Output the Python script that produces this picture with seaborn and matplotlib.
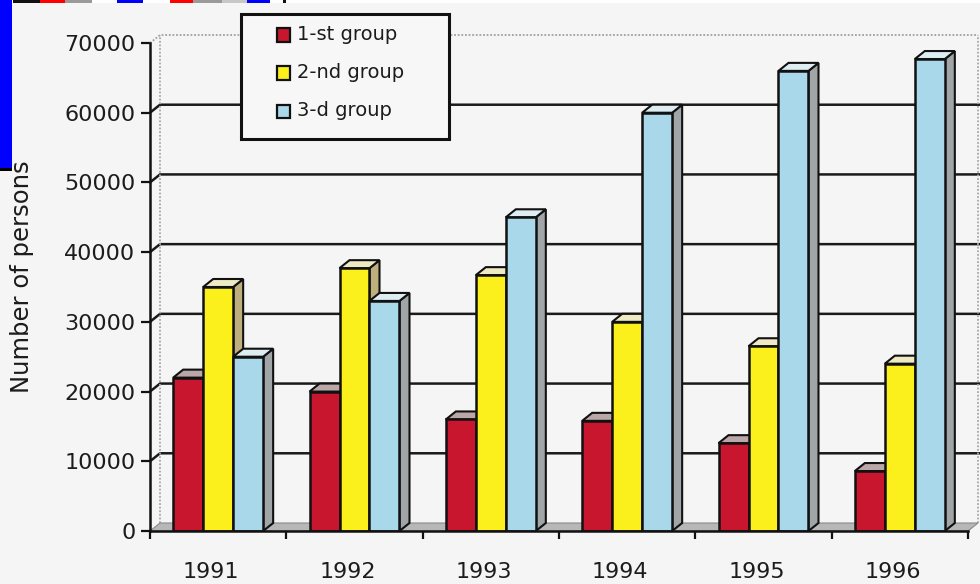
import numpy as np
import pandas as pd
import matplotlib
matplotlib.use("Agg")
import matplotlib.pyplot as plt
import seaborn as sns
from matplotlib.patches import Polygon, Rectangle
import matplotlib.transforms as mtrans

# ---- data -------------------------------------------------------------
years = ["1991", "1992", "1993", "1994", "1995", "1996"]
groups = ["1-st group", "2-nd group", "3-d group"]
group1 = [22000, 20000, 16000, 15800, 12600, 8600]
group2 = [35000, 37700, 36700, 30000, 26500, 24000]
group3 = [25000, 33000, 45000, 60000, 66000, 67700]
y_ticks = [0, 10000, 20000, 30000, 40000, 50000, 60000, 70000]
y_title = "Number of persons"

# ---- style ------------------------------------------------------------
front_colors = ["#c8162f", "#fbf01c", "#a8d8ea"]
side_colors = ["#7d2a33", "#bdb07c", "#a0a6a7"]
top_colors = ["#bba6a8", "#eeeac4", "#ddedf2"]
BG = "#f5f5f5"
INK = "#111111"
TXT = "#1c1c1c"

sns.set_theme(style="white")
plt.rcParams["font.family"] = ["DejaVu Sans"]

W, H = 980, 584
fig = plt.figure(figsize=(W / 100, H / 100), dpi=100, facecolor=BG)
ax = fig.add_axes([150 / W, 53 / H, 818 / W, 488 / H])
ax.set_facecolor("none")

df = pd.DataFrame({
    "year": years * 3,
    "group": [g for g in groups for _ in years],
    "persons": group1 + group2 + group3,
})

sns.barplot(data=df, x="year", y="persons", hue="group", order=years,
            hue_order=groups, palette=front_colors, width=0.66,
            saturation=1, edgecolor=INK, linewidth=1.8, legend=False, ax=ax)

ax.set_xlim(-0.5, 5.5)
ax.set_ylim(0, 70000)

# depth of the pseudo-3D extrusion, given in pixels and converted to data
origin = ax.transData.transform((0, 0))
dx, dy = ax.transData.inverted().transform(origin + np.array([10, 8]))
right_end = ax.transData.inverted().transform(
    ax.transData.transform((5.5, 0)) + np.array([14, 0]))[0]

# floor
ax.add_patch(Polygon([(-0.5, 0), (5.5, 0), (5.5 + dx, dy), (-0.5 + dx, dy)],
                     closed=True, facecolor="#b7b7b7", edgecolor="#8a8a8a",
                     lw=0.8, zorder=1.5, clip_on=False))

# back wall gridlines with their slanted connectors
for v in y_ticks[1:-1]:
    ax.plot([-0.5, -0.5 + dx, right_end], [v, v + dy, v + dy],
            color="#1a1a1a", lw=1.8, zorder=1, clip_on=False,
            solid_joinstyle="miter")
top = y_ticks[-1]
ax.plot([-0.5, -0.5 + dx, 5.5 + dx], [top, top + dy, top + dy],
        color="#a0a0a0", lw=1.3, ls=(0, (1, 1)), zorder=1, clip_on=False)
ax.plot([-0.5 + dx, -0.5 + dx], [dy, top + dy], color="#a8a8a8", lw=1.3,
        ls=(0, (1, 1)), zorder=1, clip_on=False)
ax.plot([5.5 + dx, 5.5 + dx], [dy, top + dy], color="#a8a8a8", lw=1.3,
        ls=(0, (1, 1)), zorder=1, clip_on=False)

# extrude bars: side and top faces, drawn left to right
bars = sorted(ax.patches[:len(df)], key=lambda p: p.get_x())
for k, bar in enumerate(bars):
    gi = k % 3
    x0 = bar.get_x()
    x1 = x0 + bar.get_width()
    h = bar.get_height()
    base_z = 3 + 0.1 * k
    side = Polygon([(x1, 0), (x1, h), (x1 + dx, h + dy), (x1 + dx, dy)],
                   closed=True, facecolor=side_colors[gi], edgecolor=INK,
                   lw=1.5, zorder=base_z, joinstyle="miter")
    cap = Polygon([(x0, h), (x1, h), (x1 + dx, h + dy), (x0 + dx, h + dy)],
                  closed=True, facecolor=top_colors[gi], edgecolor=INK,
                  lw=1.5, zorder=base_z, joinstyle="miter")
    ax.add_patch(side)
    ax.add_patch(cap)
    bar.set_zorder(base_z + 0.05)
    bar.set_joinstyle("miter")

# axes, ticks and labels
for s in ["top", "right"]:
    ax.spines[s].set_visible(False)
for s in ["left", "bottom"]:
    ax.spines[s].set_color(INK)
    ax.spines[s].set_linewidth(1.8)
    ax.spines[s].set_zorder(5)

ax.set_yticks(y_ticks)
ax.set_yticklabels([str(v) for v in y_ticks])
ax.tick_params(axis="y", direction="out", length=6.5, width=1.6, pad=4,
               labelsize=16, color=INK, labelcolor=TXT, left=True)

ax.set_xticks(range(len(years)))
ax.set_xticklabels(years)
ax.set_xticks(np.arange(-0.5, 6.0, 1.0), minor=True)
ax.tick_params(axis="x", which="major", length=0, pad=22, labelsize=16,
               labelcolor=TXT)
ax.tick_params(axis="x", which="minor", direction="out", length=6,
               width=1.6, color=INK, bottom=True)
shift = mtrans.ScaledTranslation(-7 / 100, 0, fig.dpi_scale_trans)
for lbl in ax.get_xticklabels():
    lbl.set_transform(lbl.get_transform() + shift)
ax.set_xlabel("")

ax.set_ylabel(y_title, fontsize=17.5, color=TXT)
ax.yaxis.label.set_verticalalignment("center")
ax.yaxis.label.set_rotation_mode("default")
ax.yaxis.set_label_coords((22 - 150) / 818, (531 - 277) / 488)

# legend box
def fx(px):
    return px / W


def fy(py):
    return 1 - py / H


fig.add_artist(Rectangle((fx(241), fy(139)), fx(449) - fx(241),
                         fy(14) - fy(139), transform=fig.transFigure,
                         facecolor="#f7f7f7", edgecolor=INK, lw=2.2,
                         zorder=10))
for gi, (name, row_y) in enumerate(zip(groups, [35, 73, 111])):
    fig.add_artist(Rectangle((fx(277), fy(row_y + 6.5)), fx(13), 13 / H,
                             transform=fig.transFigure,
                             facecolor=front_colors[gi], edgecolor=INK,
                             lw=1.6, zorder=11))
    fig.text(fx(297), fy(row_y), name, fontsize=14, color=TXT,
             va="center", ha="left", zorder=12)

# page edge marks around the chart
fig.add_artist(Rectangle((0, fy(3)), 1, 3 / H, transform=fig.transFigure,
                         facecolor="white", edgecolor="none", zorder=0.5))
for x0, x1, col in [(13, 40, "#111111"), (40, 65, "#ff0000"),
                    (65, 92, "#9a9a9a"), (117, 143, "#0000ff"),
                    (170, 193, "#ff0000"), (193, 222, "#9a9a9a"),
                    (222, 247, "#c8c8c8"), (247, 270, "#0000ff"),
                    (283, 286, "#111111")]:
    fig.add_artist(Rectangle((fx(x0), fy(3)), fx(x1 - x0), 3 / H,
                             transform=fig.transFigure, facecolor=col,
                             edgecolor="none", zorder=0.6))
fig.add_artist(Rectangle((0, fy(168)), fx(12), 168 / H,
                         transform=fig.transFigure, facecolor="#0000ff",
                         edgecolor="none", zorder=0.7))
fig.add_artist(Rectangle((0, fy(171)), fx(12), 3 / H,
                         transform=fig.transFigure, facecolor="#000000",
                         edgecolor="none", zorder=0.7))

fig.savefig("out.png", dpi=100, facecolor=BG)
